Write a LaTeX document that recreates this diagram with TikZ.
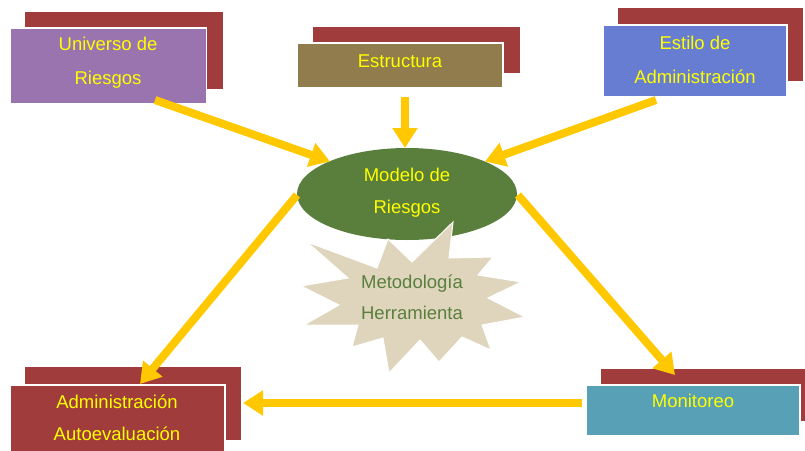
\documentclass[tikz,border=0pt]{standalone}
\usepackage{fontspec}
\setmainfont{Liberation Sans}
\usetikzlibrary{arrows.meta,shapes.geometric}

\definecolor{shadowred}{HTML}{A03C3C}
\definecolor{boxpurple}{HTML}{9A74AE}
\definecolor{boxolive}{HTML}{907C4C}
\definecolor{boxblue}{HTML}{677DD2}
\definecolor{boxteal}{HTML}{57A0B6}
\definecolor{modelgreen}{HTML}{5A7F3D}
\definecolor{burstfill}{HTML}{DED5BC}
\definecolor{arrowgold}{HTML}{FFC800}
\definecolor{labelyellow}{HTML}{FFFF00}

\tikzset{
  shadowbox/.style={fill=shadowred},
  frontbox/.style={draw=white, line width=1.2pt, rectangle, inner sep=0pt},
  boxlabel/.style={text=labelyellow, align=center,
    font=\fontsize{18.5}{34}\selectfont},
  flow/.style={draw=arrowgold, line width=8pt,
    -{Triangle[width=24pt,length=20pt]}, arrowgold},
}

\begin{document}
\begin{tikzpicture}[x=1pt,y=-1pt]
\useasboundingbox (0,0) rectangle (805,450);

% offset shadow panels behind each box
\fill[shadowbox] (25,12) rectangle (223,89);
\fill[shadowbox] (313,27) rectangle (520,73);
\fill[shadowbox] (618,8) rectangle (803,81);
\fill[shadowbox] (25,367) rectangle (241,440);
\fill[shadowbox] (601,369) rectangle (805,421);

% front boxes
\node[frontbox, fill=boxpurple, minimum width=196pt, minimum height=76pt]
  (uni) at (108.5,66) {};
\node[boxlabel] (unitext) at (108,62.5) {Universo de\\Riesgos};

\node[frontbox, fill=boxolive, minimum width=206pt, minimum height=45pt]
  (est) at (400,65.5) {};
\node[boxlabel] (esttext) at (400,61.5) {Estructura};

\node[frontbox, fill=boxblue, minimum width=184pt, minimum height=72pt]
  (sty) at (695,61) {};
\node[boxlabel] (stytext) at (695,59.5) {Estilo de\\Administración};

\node[frontbox, fill=shadowred, minimum width=215pt, minimum height=70pt]
  (adm) at (117.5,420) {};
\node[boxlabel, font=\fontsize{18.5}{32}\selectfont]
  (admtext) at (117,417.5) {Administración\\Autoevaluación};

\node[frontbox, fill=boxteal, minimum width=214pt, minimum height=51pt]
  (mon) at (693,410.5) {};
\node[boxlabel] (montext) at (693,401) {Monitoreo};

% central model
\node[ellipse, fill=modelgreen, minimum width=220pt, minimum height=92pt,
  inner sep=0pt] (model) at (407,194) {};
\node[boxlabel, font=\fontsize{18.5}{32}\selectfont]
  (modeltext) at (407,192.5) {Modelo de\\Riesgos};

% starburst under the model
\filldraw[fill=burstfill, draw=white, line width=1pt, line join=miter]
  (388,239) -- (412,262) -- (453,222) -- (449,258) -- (493,257) --
  (478,275) -- (521,282) -- (488,298) -- (525,317) -- (482,325) --
  (491,350) -- (462,337) -- (439,362) -- (420,340) -- (389,373) --
  (383,338) -- (352,347) -- (358,325) -- (304,325) -- (339,305) --
  (301,286) -- (348,278) -- (307,242) -- (377,268) -- cycle;
\node[text=modelgreen, align=center, font=\fontsize{18.5}{31}\selectfont]
  (burst) at (412,297.5) {Metodología\\Herramienta};

% arrow end points
\coordinate (uniout) at (155,100);
\coordinate (modelinA) at (330,161.5);
\coordinate (estout) at (405,97);
\coordinate (modelinB) at (405,148);
\coordinate (styout) at (656,100);
\coordinate (modelinC) at (485,161.5);
\coordinate (modeloutL) at (297,195);
\coordinate (admin) at (140,384);
\coordinate (modeloutR) at (518,195);
\coordinate (monin) at (675,375);
\coordinate (monout) at (582,403);
\coordinate (adminR) at (243,403);

\draw[flow] (uniout) -- (modelinA);
\draw[flow] (estout) -- (modelinB);
\draw[flow] (styout) -- (modelinC);
\draw[flow] (modeloutL) -- (admin);
\draw[flow] (modeloutR) -- (monin);
\draw[flow] (monout) -- (adminR);
\end{tikzpicture}
\end{document}
